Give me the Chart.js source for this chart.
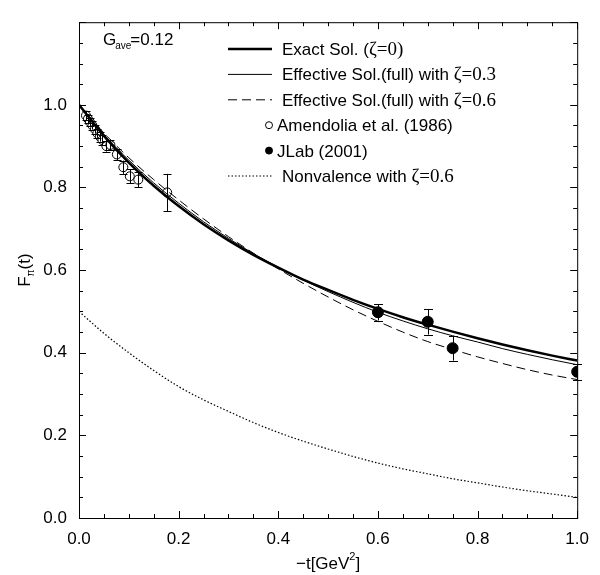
<!DOCTYPE html>
<html>
<head>
<meta charset="utf-8">
<script src="https://cdn.jsdelivr.net/npm/chart.js@4.4.1/dist/chart.umd.min.js"></script>
<style>
  html, body { margin: 0; padding: 0; background: #fff; }
  canvas { display: block; }
</style>
</head>
<body>
<canvas id="ffChart" width="600" height="575"></canvas>
<script>
// -t values (GeV^2) for the model curves
const tGrid = [0, 0.05, 0.1, 0.15, 0.2, 0.25, 0.3, 0.35, 0.4, 0.45, 0.5,
               0.55, 0.6, 0.65, 0.7, 0.75, 0.8, 0.85, 0.9, 0.95, 1.0];
const exactSol = [1.000, 0.925, 0.860, 0.804, 0.755, 0.711, 0.672, 0.637, 0.606, 0.577, 0.552,
                  0.528, 0.506, 0.486, 0.468, 0.451, 0.435, 0.420, 0.406, 0.393, 0.381];
const effSol03 = [1.000, 0.928, 0.866, 0.811, 0.762, 0.717, 0.677, 0.640, 0.607, 0.576, 0.548,
                  0.522, 0.498, 0.477, 0.458, 0.441, 0.426, 0.410, 0.396, 0.383, 0.371];
const effSol06 = [1.000, 0.932, 0.872, 0.819, 0.770, 0.724, 0.681, 0.641, 0.603, 0.568, 0.535,
                  0.504, 0.476, 0.450, 0.427, 0.408, 0.390, 0.374, 0.359, 0.346, 0.335];
const nonvalence06 = [0.500, 0.447, 0.400, 0.357, 0.318, 0.286, 0.258, 0.231, 0.207, 0.186, 0.167,
                      0.149, 0.133, 0.119, 0.107, 0.095, 0.085, 0.075, 0.066, 0.058, 0.050];

// data points
const amendoliaT = [0.014, 0.018, 0.022, 0.027, 0.032, 0.037, 0.042, 0.047, 0.055, 0.063,
                    0.076, 0.089, 0.102, 0.119, 0.177];
const amendoliaF = [0.974, 0.966, 0.958, 0.950, 0.941, 0.931, 0.923, 0.915, 0.900, 0.903,
                    0.880, 0.849, 0.827, 0.819, 0.788];
const amendoliaErr = [0.010, 0.010, 0.010, 0.010, 0.011, 0.011, 0.012, 0.012, 0.013, 0.013,
                      0.014, 0.016, 0.017, 0.019, 0.045];
const jlabT = [0.6, 0.7, 0.75, 1.0];
const jlabF = [0.498, 0.475, 0.411, 0.354];
const jlabErr = [0.020, 0.031, 0.030, 0.019];

// legend text: sans part, serif part
const legendLabels = [
  ["Exact Sol. (", "\u03B6=0)"],
  ["Effective Sol.(full) with ", "\u03B6=0.3"],
  ["Effective Sol.(full) with ", "\u03B6=0.6"],
  ["Amendolia et al. (1986)", ""],
  ["JLab (2001)", ""],
  ["Nonvalence with ", "\u03B6=0.6"]
];

const SANS = '"Liberation Sans", Arial, Helvetica, sans-serif';
const SERIF = '"Liberation Serif", "Times New Roman", serif';
Chart.defaults.font.family = SANS;
Chart.defaults.color = "#000";

const toPoints = (xs, ys) => xs.map((x, i) => ({ x, y: ys[i] }));

const errorBars = {
  id: "errorBars",
  afterDatasetsDraw(chart) {
    const { ctx, scales: { x, y } } = chart;
    const sets = [[amendoliaT, amendoliaF, amendoliaErr, 4], [jlabT, jlabF, jlabErr, 4.5]];
    ctx.save();
    ctx.strokeStyle = "#000";
    ctx.lineWidth = 1;
    sets.forEach(([ts, fs, es, cap]) => {
      ts.forEach((t, i) => {
        const px = Math.round(x.getPixelForValue(t)) + 0.5;
        const top = y.getPixelForValue(fs[i] + es[i]);
        const bot = y.getPixelForValue(fs[i] - es[i]);
        ctx.beginPath();
        ctx.moveTo(px, top); ctx.lineTo(px, bot);
        ctx.moveTo(px - cap, Math.round(top) + 0.5); ctx.lineTo(px + cap, Math.round(top) + 0.5);
        ctx.moveTo(px - cap, Math.round(bot) + 0.5); ctx.lineTo(px + cap, Math.round(bot) + 0.5);
        ctx.stroke();
      });
    });
    ctx.restore();
  }
};

const frameAndText = {
  id: "frameAndText",
  afterDraw(chart) {
    const { ctx, chartArea: a, scales: { x, y } } = chart;
    ctx.save();
    ctx.lineWidth = 1;
    ctx.strokeStyle = "#000";
    ctx.strokeRect(a.left + 0.5, a.top + 0.5, a.right - a.left, a.bottom - a.top);

    // inward ticks on all four sides
    ctx.beginPath();
    for (let k = 0; k <= 20; k++) {
      const v = k * 0.05;
      const len = k % 4 === 0 ? 7 : 4;
      const px = Math.round(x.getPixelForValue(v)) + 0.5;
      ctx.moveTo(px, a.bottom); ctx.lineTo(px, a.bottom - len);
      ctx.moveTo(px, a.top); ctx.lineTo(px, a.top + len);
    }
    for (let k = 0; k <= 24; k++) {
      const v = k * 0.05;
      const len = k % 4 === 0 ? 7 : 4;
      const py = Math.round(y.getPixelForValue(v)) + 0.5;
      ctx.moveTo(a.left, py); ctx.lineTo(a.left + len, py);
      ctx.moveTo(a.right, py); ctx.lineTo(a.right - len, py);
    }
    ctx.stroke();

    ctx.fillStyle = "#000";
    ctx.textBaseline = "alphabetic";

    // x title
    ctx.font = "17px " + SANS;
    const xt1 = "\u2212t[GeV", xt2 = "2", xt3 = "]";
    ctx.font = "17px " + SANS;
    const w1 = ctx.measureText(xt1).width;
    const w3 = ctx.measureText(xt3).width;
    ctx.font = "11px " + SANS;
    const w2 = ctx.measureText(xt2).width;
    let sx = (a.left + a.right) / 2 - (w1 + w2 + w3) / 2;
    const by = 569;
    ctx.font = "17px " + SANS;
    ctx.textAlign = "left";
    ctx.fillText(xt1, sx, by);
    ctx.font = "11px " + SANS;
    ctx.fillText(xt2, sx + w1, by - 9);
    ctx.font = "17px " + SANS;
    ctx.fillText(xt3, sx + w1 + w2, by);

    // y title
    ctx.save();
    ctx.translate(30, (a.top + a.bottom) / 2);
    ctx.rotate(-Math.PI / 2);
    ctx.font = "17px " + SANS;
    const f1 = ctx.measureText("F").width;
    const f3 = ctx.measureText("(t)").width;
    ctx.font = "10px " + SANS;
    const f2 = ctx.measureText("\u03C0").width;
    let fx = -(f1 + f2 + f3) / 2;
    ctx.font = "17px " + SANS;
    ctx.fillText("F", fx, 0);
    ctx.font = "10px " + SANS;
    ctx.fillText("\u03C0", fx + f1, 4);
    ctx.font = "17px " + SANS;
    ctx.fillText("(t)", fx + f1 + f2, 0);
    ctx.restore();

    // G_ave annotation
    ctx.font = "17px " + SANS;
    ctx.fillText("G", 103, 45);
    const gw = ctx.measureText("G").width;
    ctx.font = "10px " + SANS;
    ctx.fillText("ave", 103 + gw - 1, 49);
    const aw = ctx.measureText("ave").width;
    ctx.font = "17px " + SANS;
    ctx.fillText("=0.12", 103 + gw + aw - 2, 45);

    // legend
    const ds = chart.data.datasets;
    legendLabels.forEach((lab, i) => {
      const rowY = 49 + i * 25.4;
      const d = ds[i];
      if (d.showLine) {
        ctx.beginPath();
        ctx.lineWidth = d.borderWidth;
        ctx.setLineDash(d.borderDash || []);
        ctx.moveTo(228, rowY);
        ctx.lineTo(272, rowY);
        ctx.stroke();
        ctx.setLineDash([]);
      } else {
        ctx.beginPath();
        ctx.lineWidth = 1;
        ctx.arc(269, rowY, 3.5, 0, Math.PI * 2);
        ctx.fillStyle = d.backgroundColor;
        ctx.fill();
        ctx.stroke();
        ctx.fillStyle = "#000";
      }
      const tx = d.showLine ? 282 : 277;
      ctx.font = "17px " + SANS;
      ctx.fillText(lab[0], tx, rowY + 6);
      const lw = ctx.measureText(lab[0]).width;
      if (lab[1]) {
        ctx.font = "19px " + SERIF;
        ctx.fillText(lab[1], tx + lw, rowY + 6);
      }
    });
    ctx.restore();
  }
};

new Chart(document.getElementById("ffChart"), {
  type: "scatter",
  data: {
    datasets: [
      { label: "Exact", data: toPoints(tGrid, exactSol), showLine: true, borderColor: "#000",
        borderWidth: 2.5, pointRadius: 0, cubicInterpolationMode: "monotone" },
      { label: "Eff 0.3", data: toPoints(tGrid, effSol03), showLine: true, borderColor: "#000",
        borderWidth: 1, pointRadius: 0, cubicInterpolationMode: "monotone" },
      { label: "Eff 0.6", data: toPoints(tGrid, effSol06), showLine: true, borderColor: "#000",
        borderWidth: 1, borderDash: [9, 5], pointRadius: 0, cubicInterpolationMode: "monotone" },
      { label: "Amendolia", data: toPoints(amendoliaT, amendoliaF), showLine: false,
        pointRadius: 4.5, borderColor: "#000", backgroundColor: "#fff", borderWidth: 1 },
      { label: "JLab", data: toPoints(jlabT, jlabF), showLine: false,
        pointRadius: 5.5, borderColor: "#000", backgroundColor: "#000", borderWidth: 1 },
      { label: "Nonvalence", data: toPoints(tGrid, nonvalence06), showLine: true, borderColor: "#000",
        borderWidth: 1.2, borderDash: [1.5, 2], pointRadius: 0, cubicInterpolationMode: "monotone" }
    ]
  },
  options: {
    responsive: false,
    animation: false,
    layout: { padding: { top: 7, right: 14, left: 0, bottom: 0 } },
    plugins: { legend: { display: false }, tooltip: { enabled: false } },
    scales: {
      x: {
        type: "linear", min: 0, max: 1,
        grid: { display: false, drawTicks: false },
        border: { display: false },
        ticks: { stepSize: 0.2, padding: 11, font: { size: 17 }, color: "#000",
                 callback: v => v.toFixed(1) },
        afterFit: s => { s.height = 57; }
      },
      y: {
        min: 0, max: 1.2,
        grid: { display: false, drawTicks: false },
        border: { display: false },
        ticks: { stepSize: 0.2, padding: 12, font: { size: 17 }, color: "#000",
                 callback: v => (v > 1.01 ? "" : v.toFixed(1)) },
        afterFit: s => { s.width = 79; }
      }
    }
  },
  plugins: [errorBars, frameAndText]
});
</script>
</body>
</html>
